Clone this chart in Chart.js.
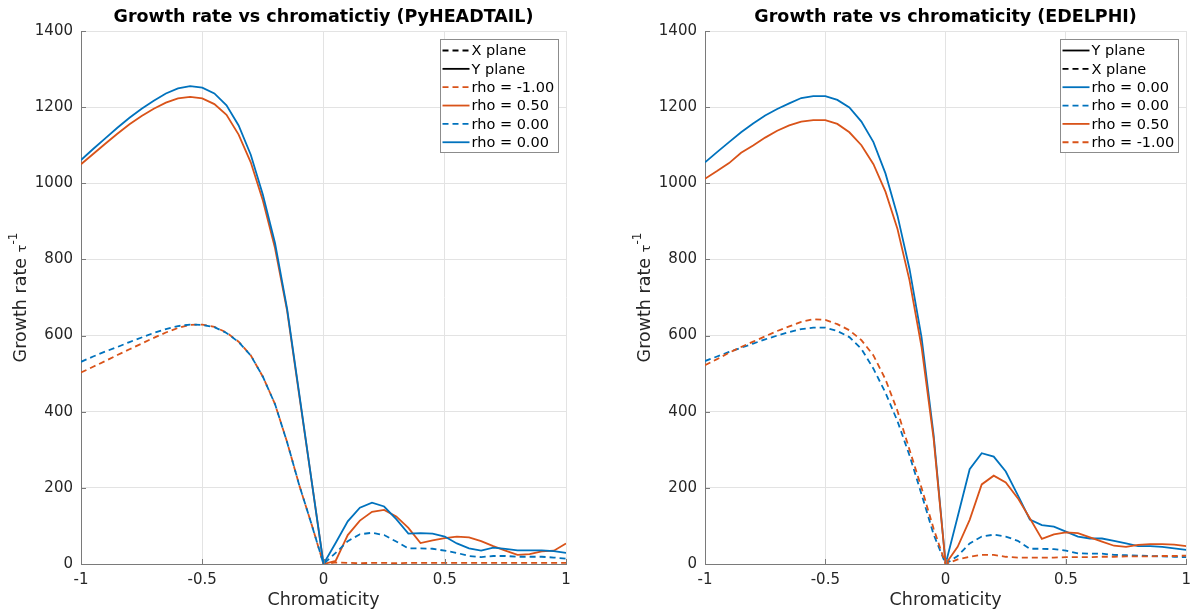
<!DOCTYPE html>
<html>
<head>
<meta charset="utf-8">
<title>Growth rate vs chromaticity</title>
<script src="https://cdn.jsdelivr.net/npm/chart.js@4.4.1/dist/chart.umd.min.js"></script>
<style>
  html, body { margin: 0; padding: 0; background: #fff; }
  .panel { position: absolute; top: 0; width: 599px; height: 613px; }
  #left { left: 0; }
  #right { left: 599px; }
</style>
</head>
<body>
<div class="panel" id="left"><canvas id="phtChart" width="599" height="613"></canvas></div>
<div class="panel" id="right"><canvas id="edChart" width="599" height="613"></canvas></div>
<script>
// ---------- data ----------
const chroma = [
  -1, -0.95, -0.9, -0.85, -0.8, -0.75, -0.7, -0.65, -0.6, -0.55, -0.5,
  -0.45, -0.4, -0.35, -0.3, -0.25, -0.2, -0.15, -0.1, -0.05, 0,
  0.05, 0.1, 0.15, 0.2, 0.25, 0.3, 0.35, 0.4, 0.45, 0.5,
  0.55, 0.6, 0.65, 0.7, 0.75, 0.8, 0.85, 0.9, 0.95, 1
];
const xTicks = [-1, -0.5, 0, 0.5, 1];
const yTicks = [0, 200, 400, 600, 800, 1000, 1200, 1400];

// PyHEADTAIL
const phtXRhoM100 = [503, 518, 533, 549, 564, 579, 594, 608, 620, 628, 629, 623, 608, 584, 548, 492, 420, 320, 207, 106, 0,
  4, 3, 2, 3, 3, 2, 3, 3, 3, 3, 3, 3, 3, 3, 3, 3, 3, 3, 3, 3];
const phtYRho050 = [1050, 1077, 1104, 1130, 1155, 1177, 1196, 1212, 1223, 1227, 1223, 1208, 1180, 1128, 1055, 955, 830, 665, 443, 222, 0,
  8, 76, 114, 137, 142, 125, 95, 55, 62, 68, 72, 70, 60, 47, 35, 24, 26, 33, 35, 54];
const phtXRho000 = [531, 545, 558, 570, 583, 595, 607, 617, 625, 629, 628, 622, 607, 583, 548, 492, 420, 320, 207, 106, 0,
  29, 60, 78, 82, 76, 59, 41, 41, 40, 35, 29, 21, 18, 21, 21, 19, 19, 19, 17, 14];
const phtYRho000 = [1061, 1090, 1118, 1146, 1172, 1196, 1217, 1236, 1249, 1255, 1251, 1236, 1205, 1152, 1075, 970, 843, 670, 447, 223, 0,
  55, 112, 148, 161, 151, 118, 80, 81, 80, 72, 54, 41, 35, 43, 40, 36, 36, 36, 34, 29];

// EDELPHI
const edYRho000 = [1055, 1082, 1108, 1134, 1157, 1178, 1195, 1210, 1224, 1229, 1229, 1219, 1199, 1162, 1108, 1026, 915, 775, 595, 340, 0,
  124, 249, 291, 282, 243, 181, 117, 102, 98, 85, 72, 67, 67, 61, 54, 47, 47, 45, 41, 37];
const edXRho000 = [533, 545, 557, 568, 579, 590, 600, 609, 617, 621, 621, 612, 596, 565, 513, 450, 375, 285, 183, 78, 0,
  21, 54, 72, 77, 72, 61, 40, 40, 39, 35, 28, 27, 27, 24, 23, 22, 21, 20, 19, 18];
const edYRho050 = [1012, 1032, 1053, 1080, 1099, 1120, 1138, 1152, 1162, 1166, 1166, 1156, 1134, 1100, 1050, 978, 880, 745, 570, 330, 0,
  45, 116, 209, 232, 214, 173, 120, 66, 78, 83, 81, 70, 59, 48, 45, 50, 52, 52, 51, 47];
const edXRhoM100 = [522, 538, 555, 570, 584, 598, 612, 624, 636, 643, 641, 630, 614, 588, 548, 485, 402, 300, 200, 93, 0,
  12, 19, 24, 24, 19, 17, 17, 17, 17, 18, 18, 18, 19, 19, 20, 20, 20, 21, 21, 22];

// ---------- style ----------
const BLUE = '#0072BD';
const ORANGE = '#D95319';
const BLACK = '#000000';
const DASH = [6, 4];
const LINE_W = 1.8;
const AXIS_COLOR = '#7a7a7a';
const GRID_COLOR = '#e3e3e3';
const TEXT_COLOR = '#262626';
const FONT = '"DejaVu Sans", Verdana, sans-serif';

Chart.defaults.font.family = FONT;
Chart.defaults.font.size = 15;
Chart.defaults.color = TEXT_COLOR;

function series(label, values, color, dashed) {
  return {
    label,
    data: values.map((v, i) => ({ x: chroma[i], y: v })),
    borderColor: color,
    backgroundColor: color,
    borderWidth: LINE_W,
    borderDash: dashed ? DASH : [],
    pointRadius: 0,
    tension: 0,
    fill: false,
  };
}

// legend-only entries for the line style key
function keyEntry(label, dashed) {
  return series(label, [], BLACK, dashed);
}

// ────────────────────────────────────────────────
// Axes decorations: inner ticks, titles, boxed legend
// ────────────────────────────────────────────────
const matlabAxes = {
  id: 'matlabAxes',
  afterDraw(chart, args, opts) {
    const { ctx, chartArea: a, scales: { x, y } } = chart;
    const midX = (a.left + a.right) / 2;
    const midY = (a.top + a.bottom) / 2;
    ctx.save();

    // tick marks drawn inside the axes
    ctx.strokeStyle = AXIS_COLOR;
    ctx.lineWidth = 1;
    ctx.beginPath();
    y.ticks.forEach(t => {
      const py = Math.round(y.getPixelForValue(t.value)) + 0.5;
      ctx.moveTo(a.left, py);
      ctx.lineTo(a.left + 5, py);
    });
    x.ticks.forEach(t => {
      const px = Math.round(x.getPixelForValue(t.value)) + 0.5;
      ctx.moveTo(px, a.bottom);
      ctx.lineTo(px, a.bottom - 5);
    });
    ctx.stroke();

    // title
    ctx.textAlign = 'center';
    ctx.textBaseline = 'middle';
    ctx.fillStyle = BLACK;
    ctx.font = 'bold 17.5px ' + FONT;
    ctx.fillText(opts.title, midX, 17);

    // x label
    ctx.fillStyle = TEXT_COLOR;
    ctx.font = '17.5px ' + FONT;
    ctx.fillText('Chromaticity', midX, 600);

    // y label: Growth rate τ^-1
    ctx.translate(a.left - 61, midY);
    ctx.rotate(-Math.PI / 2);
    ctx.textAlign = 'left';
    ctx.textBaseline = 'alphabetic';
    const mainFont = '17.5px ' + FONT;
    const tauFont = '13px ' + FONT;
    const supFont = '12px ' + FONT;
    ctx.font = mainFont;
    const w1 = ctx.measureText('Growth rate ').width;
    ctx.font = tauFont;
    const w2 = ctx.measureText('\u03C4').width;
    ctx.font = supFont;
    const w3 = ctx.measureText('-1').width;
    let cx = -(w1 + w2 + w3) / 2;
    const base = 6;
    ctx.font = mainFont;
    ctx.fillText('Growth rate ', cx, base);
    cx += w1;
    ctx.font = tauFont;
    ctx.fillText('\u03C4', cx, base);
    cx += w2;
    ctx.font = supFont;
    ctx.fillText('-1', cx, base - 9);
    ctx.setTransform(1, 0, 0, 1, 0, 0);

    // legend box in the upper right corner
    const items = chart.data.datasets;
    ctx.font = '14.5px ' + FONT;
    const textW = Math.max(...items.map(d => ctx.measureText(d.label).width));
    const lineLen = 27;
    const rowH = 18.35;
    const boxW = Math.round(2 + lineLen + 2 + textW + 4);
    const boxH = Math.round(items.length * rowH + 3);
    const bx = Math.round(a.right - 8 - boxW) + 0.5;
    const by = Math.round(a.top + 8) + 0.5;
    ctx.fillStyle = '#ffffff';
    ctx.fillRect(bx, by, boxW, boxH);
    ctx.strokeStyle = '#8c8c8c';
    ctx.lineWidth = 1;
    ctx.strokeRect(bx, by, boxW, boxH);

    ctx.textBaseline = 'middle';
    ctx.textAlign = 'left';
    items.forEach((d, i) => {
      const ry = by + 11 + i * rowH;
      ctx.strokeStyle = d.borderColor;
      ctx.lineWidth = LINE_W;
      ctx.setLineDash(d.borderDash || []);
      ctx.beginPath();
      ctx.moveTo(bx + 2, ry);
      ctx.lineTo(bx + 2 + lineLen, ry);
      ctx.stroke();
      ctx.setLineDash([]);
      ctx.fillStyle = BLACK;
      ctx.fillText(d.label, bx + 2 + lineLen + 2, ry + 1);
    });

    ctx.restore();
  }
};

function buildChart(canvasId, title, datasets, axisWidth, padRight) {
  const n = datasets.length;
  // later entries are painted over earlier ones
  datasets.forEach((d, i) => { d.order = n - i; });

  return new Chart(document.getElementById(canvasId), {
    type: 'line',
    data: { datasets },
    options: {
      responsive: false,
      animation: false,
      layout: { padding: { top: 31, right: padRight, bottom: 0, left: 0 } },
      plugins: {
        legend: { display: false },
        tooltip: { enabled: false },
        matlabAxes: { title },
      },
      scales: {
        x: {
          type: 'linear',
          min: -1,
          max: 1,
          afterFit: s => { s.height = 49; },
          afterBuildTicks: s => { s.ticks = xTicks.map(v => ({ value: v })); },
          grid: { color: GRID_COLOR, drawTicks: false },
          border: { display: true, color: AXIS_COLOR, width: 1 },
          ticks: {
            padding: 7,
            maxRotation: 0,
            callback: v => String(v),
          },
        },
        y: {
          type: 'linear',
          min: 0,
          max: 1400,
          afterFit: s => { s.width = axisWidth; },
          afterBuildTicks: s => { s.ticks = yTicks.map(v => ({ value: v })); },
          grid: { color: GRID_COLOR, drawTicks: false },
          border: { display: true, color: AXIS_COLOR, width: 1 },
          ticks: {
            padding: 8,
            callback: v => String(v),
          },
        },
      },
    },
    plugins: [matlabAxes],
  });
}

buildChart('phtChart', 'Growth rate vs chromatictiy (PyHEADTAIL)', [
  keyEntry('X plane', true),
  keyEntry('Y plane', false),
  series('rho = -1.00', phtXRhoM100, ORANGE, true),
  series('rho = 0.50', phtYRho050, ORANGE, false),
  series('rho = 0.00', phtXRho000, BLUE, true),
  series('rho = 0.00', phtYRho000, BLUE, false),
], 81, 33);

buildChart('edChart', 'Growth rate vs chromaticity (EDELPHI)', [
  keyEntry('Y plane', false),
  keyEntry('X plane', true),
  series('rho = 0.00', edYRho000, BLUE, false),
  series('rho = 0.00', edXRho000, BLUE, true),
  series('rho = 0.50', edYRho050, ORANGE, false),
  series('rho = -1.00', edXRhoM100, ORANGE, true),
], 106, 9);
</script>
</body>
</html>
